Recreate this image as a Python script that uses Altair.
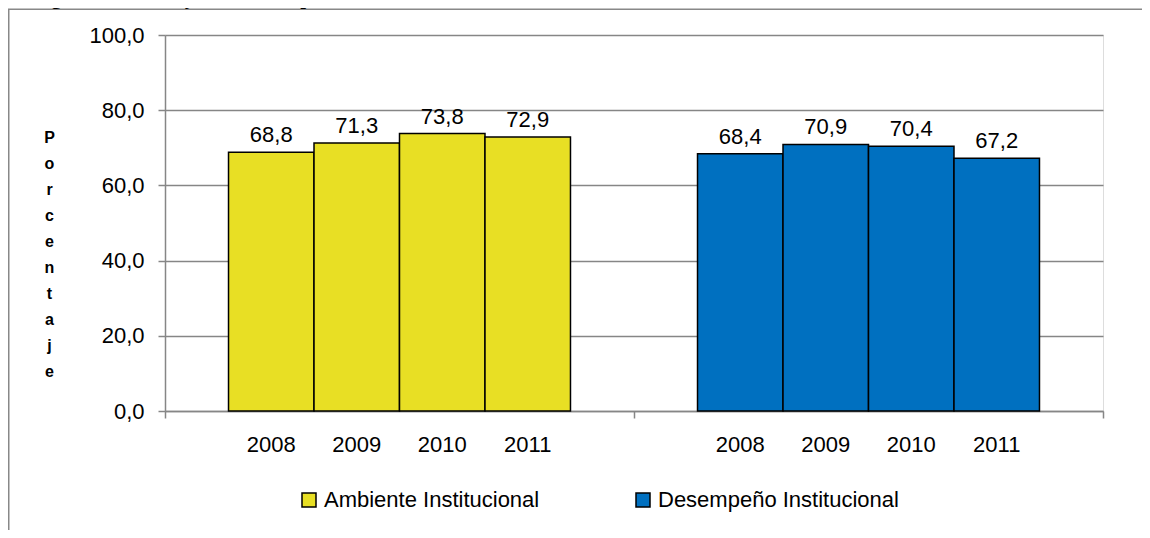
import altair as alt
import pandas as pd

groups = ["Ambiente Institucional", "Desempeño Institucional"]
years = ["2008", "2009", "2010", "2011"]
ambiente = [68.8, 71.3, 73.8, 72.9]
desempeno = [68.4, 70.9, 70.4, 67.2]
colors = ["#E8DF24", "#0070C0"]
y_ticks = [0, 20, 40, 60, 80, 100]
title_text = "Total gobernaciones y Distrito Capital. 2008 - 2011"
y_title = "Porcentaje"

rows = []
for g, vals in zip(groups, [ambiente, desempeno]):
    for yr, v in zip(years, vals):
        rows.append({"grupo": g, "anio": yr, "valor": v,
                     "etiqueta": f"{v:.1f}".replace(".", ",")})
df = pd.DataFrame(rows)
one = pd.DataFrame({"k": [0]})

W, H = 938, 376
GRAY = "#868686"
FONT = "Liberation Sans"

x_enc = alt.X("grupo:N",
              scale=alt.Scale(domain=groups, paddingInner=0, paddingOuter=0),
              axis=alt.Axis(title=None, labels=False, tickBand="extent", tickSize=7,
                            tickColor=GRAY, tickWidth=1.5, domainColor=GRAY,
                            domainWidth=1.5, grid=False))
xo_enc = alt.XOffset("anio:N", scale=alt.Scale(domain=years, paddingInner=0, paddingOuter=0.743))
y_enc = alt.Y("valor:Q",
              scale=alt.Scale(domain=[0, 100], nice=False),
              axis=alt.Axis(values=y_ticks,
                            labelExpr="replace(format(datum.value, '.1f'), '.', ',')",
                            labelFontSize=22, labelFont=FONT, labelColor="black",
                            labelPadding=14, tickSize=7, tickColor=GRAY, tickWidth=1.5,
                            domainColor=GRAY, domainWidth=1.5,
                            gridColor=GRAY, gridWidth=1.5,
                            title=list(y_title), titleAngle=0, titleFontSize=16,
                            titleFontWeight="bold", titleFont=FONT, titleColor="black",
                            titleX=-116, titleY=94, titleBaseline="top",
                            titleAlign="center", titleLineHeight=26.1))

base = alt.Chart(df)

bars = base.mark_bar(stroke="black", strokeWidth=1.5).encode(
    x=x_enc, xOffset=xo_enc, y=y_enc,
    color=alt.Color("grupo:N", scale=alt.Scale(domain=groups, range=colors),
                    legend=alt.Legend(orient="none", legendX=133, legendY=454,
                                      direction="horizontal", title=None,
                                      labelFontSize=22, labelFont=FONT, labelColor="black",
                                      labelLimit=500,
                                      symbolType="square", symbolSize=196,
                                      symbolStrokeColor="black", symbolStrokeWidth=1.5,
                                      symbolOpacity=1, columnPadding=92, labelOffset=4,
                                      padding=0)),
)

labels = base.mark_text(dy=-10, baseline="alphabetic", fontSize=22, font=FONT,
                        color="black").encode(
    x=x_enc, xOffset=xo_enc, y=y_enc, text="etiqueta:N")

year_labels = base.mark_text(baseline="alphabetic", fontSize=22, font=FONT,
                             color="black").encode(
    x=x_enc, xOffset=xo_enc, y=alt.value(H + 41), text="anio:N")

frame_left = alt.Chart(one).mark_rule(stroke="#888888", strokeWidth=1.5).encode(
    x=alt.value(-156.25), y=alt.value(-25.7), y2=alt.value(H + 200))
frame_top = alt.Chart(one).mark_rule(stroke="#888888", strokeWidth=1.5).encode(
    x=alt.value(-157), x2=alt.value(W + 100), y=alt.value(-25.7))

title = alt.Chart(one).mark_text(font="Liberation Serif", fontWeight="bold", fontSize=21,
                                 align="left", baseline="alphabetic", color="black").encode(
    x=alt.value(-165), y=alt.value(-31), text=alt.value(title_text))

chart = alt.layer(frame_left, frame_top, title, bars, labels, year_labels).properties(
    width=W, height=H,
    padding={"left": 157, "top": 27, "right": 39, "bottom": 119},
    autosize=alt.AutoSizeParams(type="none"),
).configure_view(stroke=None).configure(font=FONT)

chart.save("out.html", embed_options={"renderer": "svg", "actions": False})
